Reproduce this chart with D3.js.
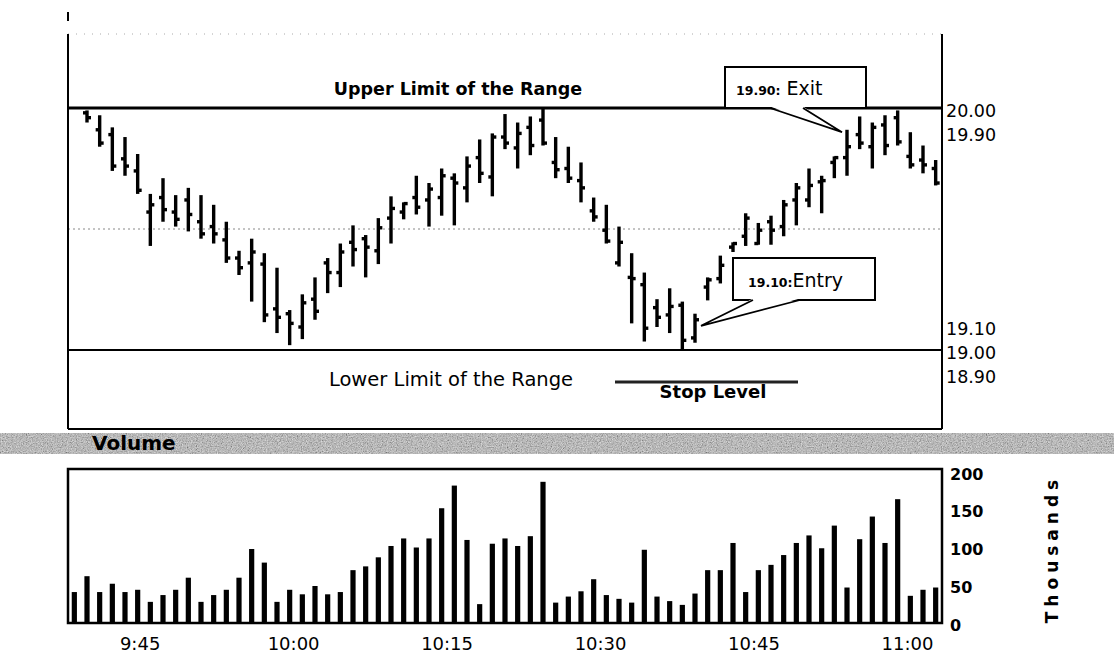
<!DOCTYPE html>
<html>
<head>
<meta charset="utf-8">
<script src="https://cdn.jsdelivr.net/npm/d3@7"></script>
<style>
  html, body { margin: 0; padding: 0; background: #fff; }
  svg { display: block; }
  text { font-family: "DejaVu Sans", Verdana, sans-serif; fill: #000; }
</style>
</head>
<body>
<svg id="chart" width="1114" height="655"></svg>
<script>
// ---------------- DATA ----------------
// 69 time slots; the first slot has a volume bar but no price bar
const volume = [41, 62, 41, 52, 41, 44, 28, 37, 44, 60, 28, 37, 44, 60, 98, 80, 28, 44, 38, 49, 38, 41, 70, 75, 87,
  102, 112, 100, 112, 152, 182, 110, 25, 105, 112, 102, 115, 187, 27, 35, 42, 58, 37, 32, 27, 97, 35, 29, 24, 39,
  70, 70, 106, 41, 70, 77, 90, 106, 116, 99, 129, 47, 111, 141, 106, 164, 36, 44, 47];

const openP = [null, 19.98, 19.91, 19.89, 19.79, 19.74, 19.57, 19.63, 19.57, 19.62, 19.53, 19.51, 19.455, 19.38, 19.36, 19.355, 19.17, 19.15, 19.095, 19.21,
  19.36, 19.32, 19.445, 19.46, 19.41, 19.545, 19.57, 19.63, 19.62, 19.63, 19.71, 19.67, 19.795, 19.715, 19.88, 19.835, 19.92, 19.95,
  19.775, 19.75, 19.70, 19.575, 19.495, 19.36, 19.30, 19.27, 19.175, 19.145, 19.185, 19.05,
  19.26, 19.295, 19.425, 19.47, 19.44, 19.53, 19.51, 19.62, 19.62, 19.695, 19.775, 19.795, 19.89, 19.84, 19.93, 19.96, 19.80, 19.785, 19.75];
const highP = [null, 19.99, 19.97, 19.92, 19.88, 19.81, 19.645, 19.71, 19.64, 19.67, 19.64, 19.60, 19.53, 19.41, 19.46, 19.40, 19.34, 19.165, 19.23, 19.30,
  19.38, 19.44, 19.515, 19.475, 19.545, 19.635, 19.61, 19.72, 19.69, 19.75, 19.73, 19.80, 19.87, 19.895, 19.975, 19.94, 19.965, 20.00,
  19.88, 19.84, 19.775, 19.63, 19.60, 19.51, 19.40, 19.32, 19.21, 19.255, 19.20, 19.15,
  19.30, 19.39, 19.445, 19.565, 19.525, 19.555, 19.62, 19.69, 19.75, 19.72, 19.80, 19.91, 19.965, 19.94, 19.97, 19.99, 19.90, 19.845, 19.785];
const lowP = [null, 19.94, 19.84, 19.74, 19.72, 19.645, 19.43, 19.53, 19.51, 19.49, 19.46, 19.44, 19.36, 19.31, 19.20, 19.115, 19.07, 19.02, 19.045, 19.125,
  19.235, 19.26, 19.345, 19.30, 19.355, 19.44, 19.54, 19.56, 19.51, 19.555, 19.515, 19.61, 19.69, 19.635, 19.83, 19.75, 19.805, 19.845,
  19.71, 19.69, 19.61, 19.53, 19.44, 19.345, 19.11, 19.035, 19.095, 19.07, 19.00, 19.03,
  19.205, 19.275, 19.405, 19.43, 19.435, 19.435, 19.47, 19.515, 19.59, 19.565, 19.71, 19.72, 19.83, 19.75, 19.805, 19.845, 19.75, 19.73, 19.68];
const closeP = [null, 19.96, 19.855, 19.76, 19.76, 19.66, 19.60, 19.58, 19.54, 19.56, 19.48, 19.48, 19.38, 19.34, 19.405, 19.145, 19.135, 19.11, 19.195, 19.16,
  19.32, 19.405, 19.415, 19.425, 19.505, 19.585, 19.605, 19.59, 19.665, 19.72, 19.69, 19.76, 19.73, 19.88, 19.855, 19.895, 19.845, 19.855,
  19.745, 19.71, 19.67, 19.55, 19.45, 19.445, 19.295, 19.09, 19.135, 19.18, 19.04, 19.125,
  19.29, 19.35, 19.44, 19.545, 19.495, 19.495, 19.60, 19.67, 19.68, 19.70, 19.795, 19.84, 19.855, 19.92, 19.845, 19.86, 19.765, 19.765, 19.69];

const timeTicks = ["9:45", "10:00", "10:15", "10:30", "10:45", "11:00"];
const priceTicks = [20.00, 19.90, 19.10, 19.00, 18.90];
const volumeTicks = [0, 50, 100, 150, 200];
const upperLimit = 20.00, lowerLimit = 19.00, midGrid = 19.50;
const entry = { index: 49, price: 19.10, label: "19.10:", word: "Entry" };
const exit  = { index: 61, price: 19.90, label: "19.90:", word: " Exit" };

// ---------------- LAYOUT ----------------
const svg = d3.select("#chart");
const L = 68, R = 942;
const pTop = 34, pBot = 429;
const vTop = 469, vBot = 623;

const parseT = d3.timeParse("%H:%M:%S");
const x = d3.scaleBand().domain(d3.range(volume.length)).range([L, R]);
const cx = i => x(i) + x.bandwidth() / 2;
const xt = d3.scaleTime().domain([parseT("09:38:00"), parseT("11:03:25")]).range([L, R]);
const yP = d3.scaleLinear().domain([lowerLimit, upperLimit]).range([350, 108]);
const yV = d3.scaleLinear().domain([0, 200]).range([vBot, 472]);

// defs: noise for the volume banner
const defs = svg.append("defs");
const f = defs.append("filter").attr("id", "noise").attr("x", 0).attr("y", 0).attr("width", "100%").attr("height", "100%");
f.append("feTurbulence").attr("type", "fractalNoise").attr("baseFrequency", 0.8).attr("numOctaves", 3).attr("seed", 7);
f.append("feColorMatrix").attr("type", "matrix")
  .attr("values", "0.6 0.6 0.6 0 -0.35  0.6 0.6 0.6 0 -0.35  0.6 0.6 0.6 0 -0.35  0 0 0 0 1");

// ---------------- PRICE PANEL ----------------
const gP = svg.append("g");
gP.append("line").attr("x1", L).attr("x2", R).attr("y1", pTop).attr("y2", pTop)
  .attr("stroke", "#aaa").attr("stroke-width", 1).attr("stroke-dasharray", "1,7");
gP.append("line").attr("x1", L).attr("x2", R).attr("y1", yP(midGrid)).attr("y2", yP(midGrid))
  .attr("stroke", "#888").attr("stroke-width", 1).attr("stroke-dasharray", "2,3");
gP.append("line").attr("x1", L).attr("x2", L).attr("y1", pTop).attr("y2", pBot).attr("stroke", "#000").attr("stroke-width", 2);
gP.append("line").attr("x1", L).attr("x2", L).attr("y1", 12).attr("y2", 21).attr("stroke", "#000").attr("stroke-width", 2);
gP.append("line").attr("x1", R).attr("x2", R).attr("y1", pTop).attr("y2", pBot).attr("stroke", "#000").attr("stroke-width", 2);
gP.append("line").attr("x1", L).attr("x2", R).attr("y1", pBot).attr("y2", pBot).attr("stroke", "#000").attr("stroke-width", 2);
gP.append("line").attr("x1", L).attr("x2", R).attr("y1", yP(upperLimit)).attr("y2", yP(upperLimit)).attr("stroke", "#000").attr("stroke-width", 2.8);
gP.append("line").attr("x1", L).attr("x2", R).attr("y1", yP(lowerLimit)).attr("y2", yP(lowerLimit)).attr("stroke", "#000").attr("stroke-width", 2.2);

// OHLC bars
const idx = d3.range(volume.length).filter(i => highP[i] != null);
const bars = gP.append("g").attr("stroke", "#000");
bars.selectAll("line.hl").data(idx).join("line").attr("class", "hl").attr("stroke-width", 3.4)
  .attr("x1", cx).attr("x2", cx).attr("y1", i => yP(highP[i])).attr("y2", i => yP(lowP[i]));
bars.selectAll("line.op").data(idx).join("line").attr("class", "op").attr("stroke-width", 3.4)
  .attr("x1", i => cx(i) - 4).attr("x2", cx).attr("y1", i => yP(openP[i])).attr("y2", i => yP(openP[i]));
bars.selectAll("line.cl").data(idx).join("line").attr("class", "cl").attr("stroke-width", 3.4)
  .attr("x1", cx).attr("x2", i => cx(i) + 4).attr("y1", i => yP(closeP[i])).attr("y2", i => yP(closeP[i]));

// price labels (right)
const pAxis = d3.axisRight(yP).tickValues(priceTicks).tickFormat(d3.format(".2f")).tickSize(0).tickPadding(4);
const gPA = svg.append("g").attr("transform", `translate(${R},0)`).call(pAxis);
gPA.select(".domain").remove();
gPA.selectAll("text").attr("font-family", "DejaVu Sans").attr("font-size", 17.5).attr("fill", "#000")
  .attr("dy", "0.5em");

// annotations
svg.append("text").attr("x", 458).attr("y", 95).attr("text-anchor", "middle")
  .attr("font-size", 17.5).attr("font-weight", "bold").text("Upper Limit of the Range");
svg.append("text").attr("x", 451).attr("y", 386).attr("text-anchor", "middle")
  .attr("font-size", 19.5).attr("fill", "#111").text("Lower Limit of the Range");
svg.append("line").attr("x1", 615).attr("x2", 798).attr("y1", 382).attr("y2", 382)
  .attr("stroke", "#222").attr("stroke-width", 3);
svg.append("text").attr("x", 713).attr("y", 398).attr("text-anchor", "middle")
  .attr("font-size", 18).attr("font-weight", "bold").text("Stop Level");

function callout(box, baseL, baseR, tip, item, textX, textY) {
  const g = svg.append("g");
  g.append("rect").attr("x", box[0]).attr("y", box[1]).attr("width", box[2] - box[0]).attr("height", box[3] - box[1])
    .attr("fill", "#fff").attr("stroke", "#000").attr("stroke-width", 2);
  g.append("path").attr("d", `M${baseL},${box[3] - 1.5}L${tip[0]},${tip[1]}L${baseR},${box[3] - 1.5}Z`)
    .attr("fill", "#fff").attr("stroke", "none");
  g.append("path").attr("d", `M${baseL},${box[3]}L${tip[0]},${tip[1]}L${baseR},${box[3]}`)
    .attr("fill", "none").attr("stroke", "#000").attr("stroke-width", 1.8);
  const t = g.append("text").attr("x", textX).attr("y", textY);
  t.append("tspan").attr("font-size", 12.5).attr("font-weight", "bold").text(item.label);
  t.append("tspan").attr("font-size", 19).text(item.word);
}
callout([725, 67, 866, yP(upperLimit)], 770, 803, [cx(exit.index) - 5, yP(exit.price)], exit, 736, 95);
callout([733, 258, 875, 300], 753, 800, [cx(entry.index) + 6, yP(entry.price)], entry, 748, 287);

// ---------------- VOLUME BANNER ----------------
svg.append("rect").attr("x", 0).attr("y", 433).attr("width", 1114).attr("height", 21).attr("fill", "#9c9c9c");
svg.append("rect").attr("x", 0).attr("y", 433).attr("width", 1114).attr("height", 21).attr("filter", "url(#noise)").attr("opacity", 0.7);
svg.append("text").attr("x", 92).attr("y", 450).attr("font-size", 20).attr("font-weight", "bold").attr("fill", "#111").text("Volume");

// ---------------- VOLUME PANEL ----------------
svg.append("g").selectAll("rect").data(volume).join("rect")
  .attr("x", (d, i) => cx(i) - 2.6).attr("width", 5.2)
  .attr("y", d => yV(d)).attr("height", d => yV(0) - yV(d)).attr("fill", "#000");
svg.append("rect").attr("x", L).attr("y", vTop).attr("width", R - L).attr("height", vBot - vTop)
  .attr("fill", "none").attr("stroke", "#000").attr("stroke-width", 2.5);

const vAxis = d3.axisRight(yV).tickValues(volumeTicks).tickSize(0).tickPadding(8);
const gVA = svg.append("g").attr("transform", `translate(${R},0)`).call(vAxis);
gVA.select(".domain").remove();
gVA.selectAll("text").attr("font-family", "DejaVu Sans").attr("font-size", 16).attr("font-weight", "bold")
  .attr("fill", "#000").attr("dy", "0.45em");

const xAxis = d3.axisBottom(xt).tickValues(timeTicks.map(s => parseT(s + ":00")))
  .tickFormat(d3.timeFormat("%-H:%M")).tickSize(0).tickPadding(14);
const gXA = svg.append("g").attr("transform", `translate(0,${vBot})`).call(xAxis);
gXA.select(".domain").remove();
gXA.selectAll("text").attr("font-family", "DejaVu Sans").attr("font-size", 18).attr("fill", "#000");

svg.append("text").attr("transform", "translate(1058,549) rotate(-90)").attr("text-anchor", "middle")
  .attr("font-size", 17).attr("font-weight", "bold").attr("letter-spacing", 5).text("Thousands");
</script>
</body>
</html>
